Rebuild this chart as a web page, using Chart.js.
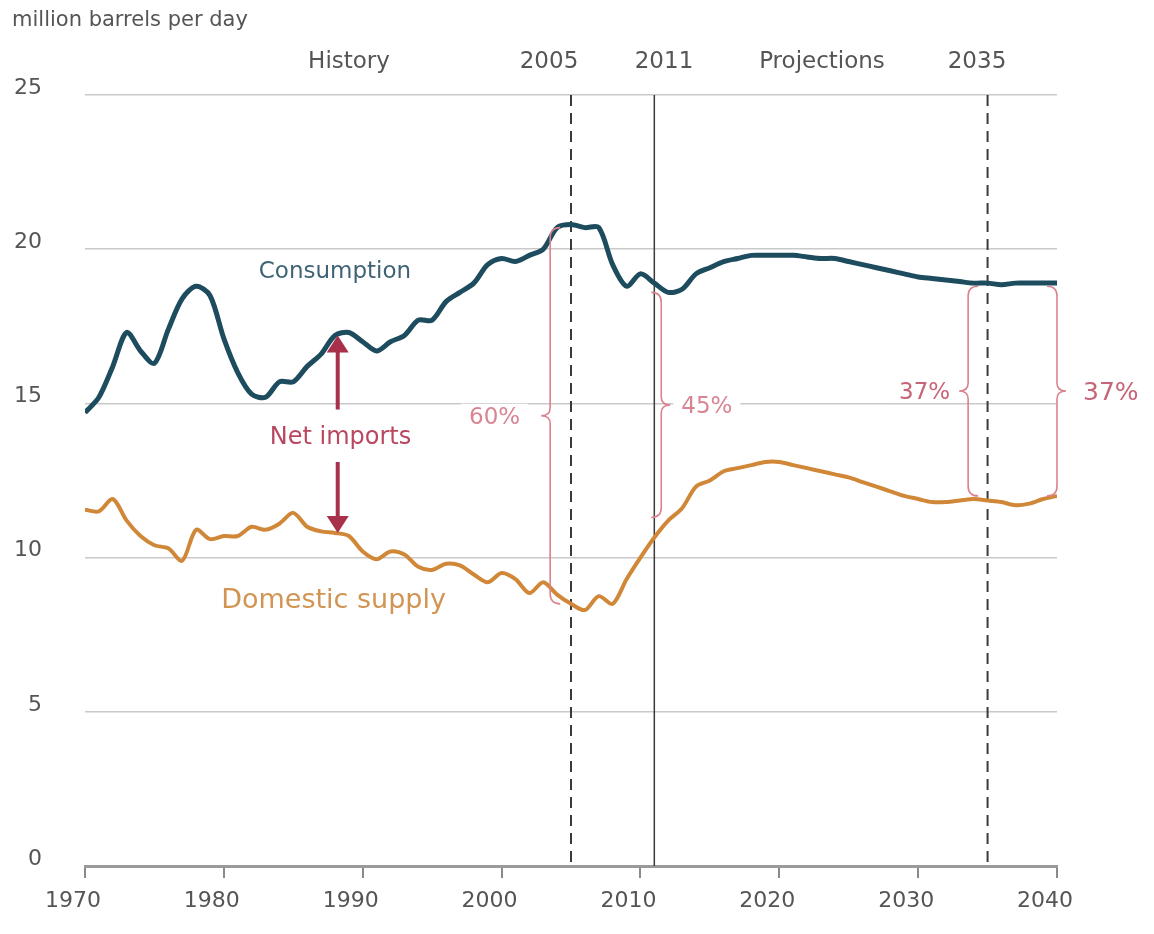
<!DOCTYPE html>
<html>
<head>
<meta charset="utf-8">
<script src="https://cdn.jsdelivr.net/npm/chart.js@4.4.1/dist/chart.umd.min.js"></script>
<style>
  html, body { margin: 0; padding: 0; background: #fff; }
  #wrap { width: 1154px; height: 934px; }
</style>
</head>
<body>
<div id="wrap"><canvas id="oil"></canvas></div>
<script>
const years = [1970, 1971, 1972, 1973, 1974, 1975, 1976, 1977, 1978, 1979,
    1980, 1981, 1982, 1983, 1984, 1985, 1986, 1987, 1988, 1989,
    1990, 1991, 1992, 1993, 1994, 1995, 1996, 1997, 1998, 1999,
    2000, 2001, 2002, 2003, 2004, 2005, 2006, 2007, 2008, 2009,
    2010, 2011, 2012, 2013, 2014, 2015, 2016, 2017, 2018, 2019,
    2020, 2021, 2022, 2023, 2024, 2025, 2026, 2027, 2028, 2029,
    2030, 2031, 2032, 2033, 2034, 2035, 2036, 2037, 2038, 2039, 2040];

const consumption = [14.7, 15.2, 16.2, 17.3, 16.7, 16.3, 17.4, 18.4, 18.8, 18.5,
    17.1, 16.0, 15.3, 15.2, 15.7, 15.7, 16.2, 16.6, 17.2, 17.3,
    17.0, 16.7, 17.0, 17.2, 17.7, 17.7, 18.3, 18.6, 18.9, 19.5,
    19.7, 19.6, 19.8, 20.0, 20.7, 20.8, 20.7, 20.7, 19.5, 18.8,
    19.2, 18.9, 18.6, 18.7, 19.2, 19.4, 19.6, 19.7, 19.8, 19.8,
    19.8, 19.8, 19.75, 19.7, 19.7, 19.6, 19.5, 19.4, 19.3, 19.2,
    19.1, 19.05, 19.0, 18.95, 18.9, 18.9, 18.85, 18.9, 18.9, 18.9, 18.9];

const domesticSupply = [11.55, 11.5, 11.9, 11.2, 10.7, 10.4, 10.3, 9.9, 10.9, 10.6,
    10.7, 10.7, 11.0, 10.9, 11.1, 11.45, 11.0, 10.85, 10.8, 10.7,
    10.2, 9.95, 10.2, 10.1, 9.7, 9.6, 9.8, 9.75, 9.45, 9.2,
    9.5, 9.3, 8.85, 9.2, 8.8, 8.5, 8.3, 8.75, 8.5, 9.3,
    10.0, 10.65, 11.2, 11.6, 12.3, 12.5, 12.8, 12.9, 13.0, 13.1,
    13.1, 13.0, 12.9, 12.8, 12.7, 12.6, 12.45, 12.3, 12.15, 12.0,
    11.9, 11.8, 11.8, 11.85, 11.9, 11.85, 11.8, 11.7, 11.75, 11.9, 12.0];

const yTicks = [0, 5, 10, 15, 20, 25];
const xTicks = [1970, 1980, 1990, 2000, 2010, 2020, 2030, 2040];

// marker years: dashed, solid, dashed
const markerYears = [2005, 2011, 2035];

// share of consumption met by net imports: [label, year, top, bottom, side, text gap]
const importShares = [
    ['60%', 2003.5, 20.7, 8.5, 'left', 30],
    ['45%', 2011.5, 18.6, 11.3, 'right', 20],
    ['37%', 2033.6, 18.8, 12.0, 'left', 18],
    ['37%', 2040.0, 18.8, 12.0, 'right', 26]
];

const FONT = '"DejaVu Sans", Verdana, sans-serif';
const GREY = '#555555';

const toPoints = arr => arr.map((v, i) => ({ x: years[i], y: v }));

function brace(ctx, x, yT, yB, dir) {
    const r = 10, d = 9;
    const yM = (yT + yB) / 2;
    ctx.beginPath();
    ctx.moveTo(x - dir * r, yT);
    ctx.quadraticCurveTo(x, yT, x, yT + r);
    ctx.lineTo(x, yM - 8);
    ctx.quadraticCurveTo(x, yM, x + dir * d, yM);
    ctx.quadraticCurveTo(x, yM, x, yM + 8);
    ctx.lineTo(x, yB - r);
    ctx.quadraticCurveTo(x, yB, x - dir * r, yB);
    ctx.stroke();
}

function arrow(ctx, x, y0, y1) {
    const dir = Math.sign(y1 - y0);
    ctx.beginPath();
    ctx.moveTo(x, y0);
    ctx.lineTo(x, y1 - dir * 10);
    ctx.stroke();
    ctx.beginPath();
    ctx.moveTo(x, y1);
    ctx.lineTo(x - 11, y1 - dir * 17);
    ctx.lineTo(x + 11, y1 - dir * 17);
    ctx.closePath();
    ctx.fill();
}

const markers = {
    id: 'markers',
    beforeDatasetsDraw(chart) {
        const { ctx, scales: { x, y } } = chart;
        ctx.save();
        markerYears.forEach((yr, i) => {
            const px = x.getPixelForValue(yr);
            ctx.strokeStyle = '#3a3a3a';
            ctx.lineWidth = i === 1 ? 1.5 : 2;
            ctx.setLineDash(i === 1 ? [] : [11, 7]);
            ctx.beginPath();
            ctx.moveTo(px, y.getPixelForValue(25));
            ctx.lineTo(px, y.getPixelForValue(0));
            ctx.stroke();
        });
        ctx.restore();
    },
    afterDatasetsDraw(chart) {
        const { ctx, scales: { x, y } } = chart;
        ctx.save();
        ctx.setLineDash([]);

        // top labels
        ctx.fillStyle = GREY;
        ctx.textBaseline = 'middle';
        ctx.textAlign = 'left';
        ctx.font = '21px ' + FONT;
        ctx.fillText('million barrels per day', 12, 21);
        ctx.textAlign = 'center';
        ctx.font = '23px ' + FONT;
        ctx.fillText('History', 349, 62);
        ctx.fillText('2005', 549, 62);
        ctx.fillText('2011', 664, 62);
        ctx.fillText('Projections', 822, 62);
        ctx.fillText('2035', 977, 62);

        // braces
        ctx.strokeStyle = '#d9838f';
        ctx.lineWidth = 1.6;
        importShares.forEach(([lab, yr, top, bot, side, gap]) => {
            const px = x.getPixelForValue(yr);
            const yT = y.getPixelForValue(top);
            const yB = y.getPixelForValue(bot);
            const dir = side === 'left' ? -1 : 1;
            const yM = (yT + yB) / 2;
            const outer = yr === 2040;
            ctx.font = (outer ? '25px ' : '23px ') + FONT;
            ctx.textAlign = side === 'left' ? 'right' : 'left';
            const tx = px + dir * gap;
            const w = ctx.measureText(lab).width;
            if (!outer) {
                ctx.fillStyle = '#fff';
                const left = side === 'left' ? tx - w - 8 : tx - 8;
                ctx.fillRect(left, yM - 12, w + 16, 24);
            }
            brace(ctx, px, yT, yB, dir);
            ctx.fillStyle = outer || yr > 2030 ? '#c66577' : '#d88593';
            ctx.fillText(lab, tx, yM + 2);
        });

        // net imports
        ctx.fillStyle = '#a8304a';
        ctx.strokeStyle = '#a8304a';
        ctx.lineWidth = 4;
        const ax = x.getPixelForValue(1988.2);
        arrow(ctx, ax, y.getPixelForValue(14.8), y.getPixelForValue(17.2));
        arrow(ctx, ax, y.getPixelForValue(13.1), y.getPixelForValue(10.8));
        ctx.fillStyle = '#b8475f';
        ctx.textAlign = 'center';
        ctx.font = '24px ' + FONT;
        ctx.fillText('Net imports', x.getPixelForValue(1988.4), y.getPixelForValue(13.9));

        // series names
        ctx.fillStyle = '#3f6375';
        ctx.font = '23px ' + FONT;
        ctx.fillText('Consumption', x.getPixelForValue(1988.0), y.getPixelForValue(19.25));
        ctx.fillStyle = '#d29452';
        ctx.font = '27px ' + FONT;
        ctx.fillText('Domestic supply', x.getPixelForValue(1987.9), y.getPixelForValue(8.6));
        ctx.restore();
    }
};

new Chart(document.getElementById('oil'), {
    type: 'line',
    data: {
        datasets: [{
            label: 'Consumption',
            data: toPoints(consumption),
            borderColor: '#1d4c5e',
            borderWidth: 5,
            pointRadius: 0,
            tension: 0.3
        }, {
            label: 'Domestic supply',
            data: toPoints(domesticSupply),
            borderColor: '#d08838',
            borderWidth: 4,
            pointRadius: 0,
            tension: 0.3
        }]
    },
    options: {
        responsive: true,
        maintainAspectRatio: false,
        animation: false,
        layout: {
            padding: { top: 95, right: 97, left: 0, bottom: 0 }
        },
        plugins: {
            legend: { display: false },
            tooltip: { enabled: false }
        },
        scales: {
            x: {
                type: 'linear',
                min: 1970,
                max: 2040,
                afterFit: s => { s.height = 68; },
                afterBuildTicks: s => { s.ticks = xTicks.map(v => ({ value: v })); },
                grid: {
                    drawOnChartArea: false,
                    drawTicks: true,
                    tickLength: 12,
                    color: '#8a8a8a',
                    lineWidth: 2
                },
                border: { display: true, color: '#9a9a9a', width: 3 },
                ticks: {
                    callback: v => String(v),
                    color: GREY,
                    padding: 10,
                    labelOffset: -12,
                    font: { family: FONT, size: 22 }
                }
            },
            y: {
                min: 0,
                max: 25,
                afterFit: s => { s.width = 85; },
                afterBuildTicks: s => { s.ticks = yTicks.map(v => ({ value: v })); },
                grid: {
                    drawTicks: false,
                    color: ctx => ctx.tick.value === 0 ? 'rgba(0,0,0,0)' : '#c9c9c9',
                    lineWidth: 1.5
                },
                border: { display: false },
                ticks: {
                    color: GREY,
                    padding: 43,
                    labelOffset: -7,
                    font: { family: FONT, size: 22 }
                }
            }
        }
    },
    plugins: [markers]
});
</script>
</body>
</html>
